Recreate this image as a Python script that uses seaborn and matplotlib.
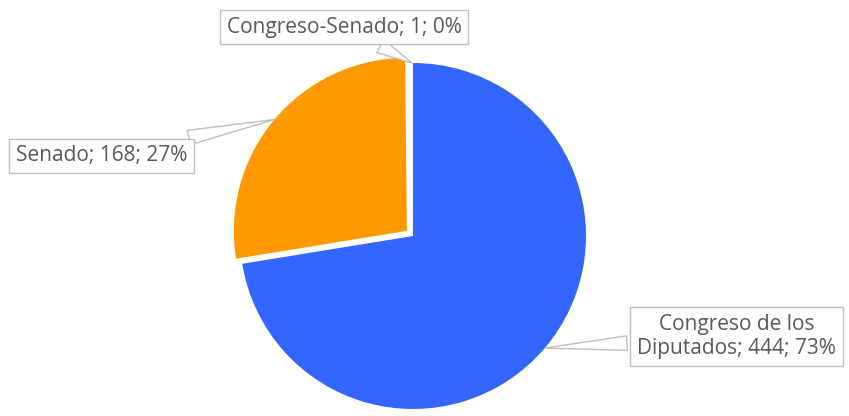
import numpy as np
import seaborn as sns
import matplotlib.pyplot as plt

# data
names = ["Congreso de los\nDiputados", "Senado", "Congreso-Senado"]
counts = [444, 168, 1]
pcts = [73, 27, 0]  # as printed on the chart
colors = ["#3366FF", "#FF9900", "#FFFFFF"]

sns.set_style("white")
plt.rcParams['font.family'] = ['Open Sans', 'DejaVu Sans']

W, H = 849, 416
fig = plt.figure(figsize=(W / 100, H / 100), dpi=100)
ax = fig.add_axes([0, 0, 1, 1])

cx, cy, r = 413, H - 236, 173
wedges, _ = ax.pie(counts, colors=colors, startangle=90, counterclock=False,
                   center=(cx, cy), radius=r, explode=[0, 8, 0],
                   wedgeprops=dict(linewidth=0))
ax.set_xlim(0, W)
ax.set_ylim(0, H)
ax.set_aspect('equal')
ax.axis('off')

# box centers for the callouts (pixel coords, y up)
box_pos = [(736.5, H - 336.5), (101.5, H - 156), (344, H - 27)]

for w, name, c, p, pos in zip(wedges, names, counts, pcts, box_pos):
    ang = np.deg2rad((w.theta1 + w.theta2) / 2)
    wx, wy = w.center
    tx, ty = wx + w.r * np.cos(ang), wy + w.r * np.sin(ang)
    label = f"{name}; {c}; {p}%"
    ax.annotate(label, xy=(tx, ty), xytext=pos, ha='center', va='center',
                fontsize=15, color='#595959', linespacing=1.15,
                bbox=dict(boxstyle='square,pad=0.33', fc='white', ec='#BFBFBF', lw=1),
                arrowprops=dict(arrowstyle='wedge,tail_width=0.7', fc='white',
                                ec='#BFBFBF', lw=1, shrinkB=0))

fig.savefig('out.png', dpi=100)
